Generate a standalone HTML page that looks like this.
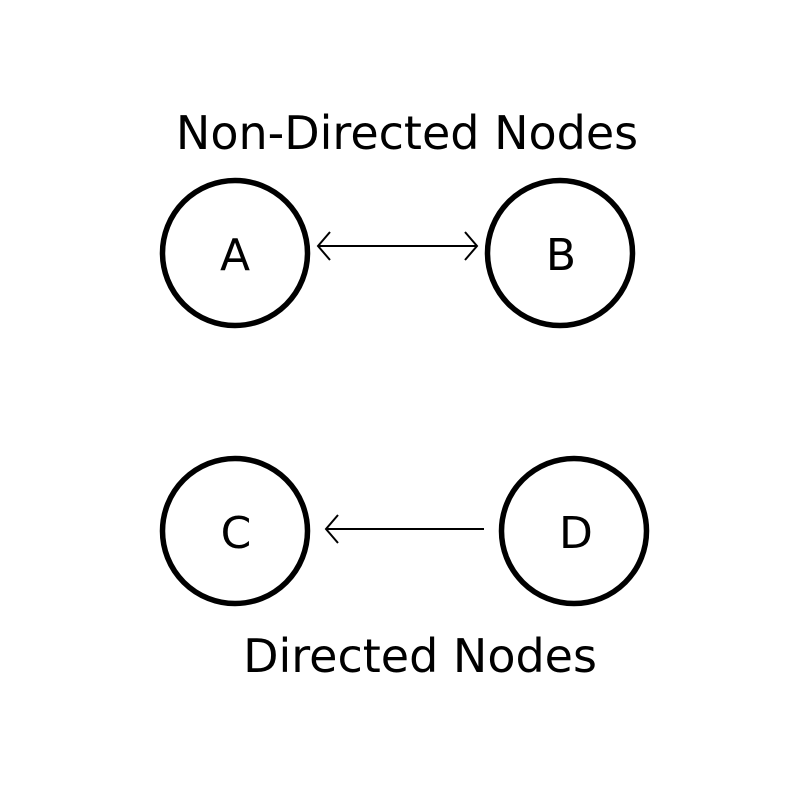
<!DOCTYPE html>
<html><head><meta charset="utf-8"><style>html,body{margin:0;padding:0;background:#fff}</style></head>
<body>
<svg width="800" height="800" viewBox="0 0 800 800" xmlns="http://www.w3.org/2000/svg">
<rect width="800" height="800" fill="#fff"/>
<g font-family="DejaVu Sans, sans-serif" fill="#000">
<text x="407" y="149" font-size="46" text-anchor="middle">Non-Directed Nodes</text>
<text x="420" y="672" font-size="46" text-anchor="middle">Directed Nodes</text>
<text x="235" y="270" font-size="44" text-anchor="middle">A</text>
<text x="561" y="270" font-size="44" text-anchor="middle">B</text>
<text x="236" y="548" font-size="44" text-anchor="middle">C</text>
<text x="576" y="548" font-size="44" text-anchor="middle">D</text>
</g>
<g fill="none" stroke="#000" stroke-width="5.5">
<circle cx="235" cy="253" r="72.5"/>
<circle cx="560" cy="253" r="72.5"/>
<circle cx="235" cy="531" r="72.5"/>
<circle cx="574" cy="531" r="72.5"/>
</g>
<g fill="none" stroke="#000" stroke-width="2">
<line x1="318" y1="246" x2="477" y2="246"/>
<polyline points="330,232 318,246 330,260"/>
<polyline points="465,232 477,246 465,260"/>
<line x1="326" y1="529" x2="484" y2="529"/>
<polyline points="338,515 326,529 338,543"/>
</g>
</svg>
</body></html>
